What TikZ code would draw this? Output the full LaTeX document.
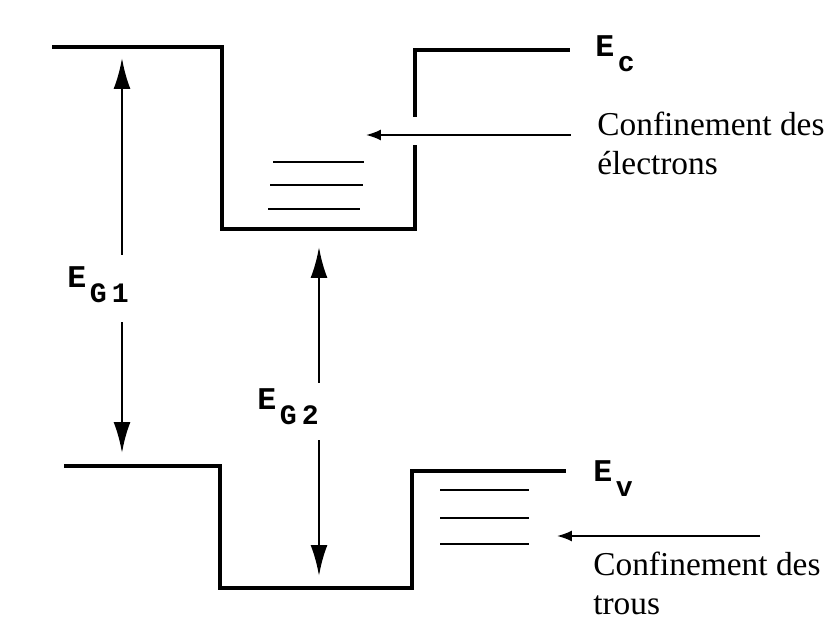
\documentclass[tikz,border=0pt]{standalone}
\usepackage{fontspec}
\setmainfont{Liberation Serif}
\newfontfamily\monofam{Liberation Mono}
\usetikzlibrary{arrows.meta}
\tikzset{
	band/.style={line width=2.4pt, line join=miter},
	level/.style={line width=1pt},
	gaparr/.style={-{Latex[length=6.2mm,width=3.4mm]}, line width=1.5pt},
	confarr/.style={-{Latex[length=3mm,width=2.2mm]}, line width=1pt},
	elab/.style={inner sep=0pt, anchor=base west},
	txt/.style={inner sep=0pt, anchor=north west, align=left,
		font=\fontsize{19}{22}\selectfont}
}
\newcommand{\Elab}[1]{{\monofam\bfseries\fontsize{18}{18}\selectfont E\hspace{2pt}\raisebox{-8pt}{\fontsize{16}{16}\selectfont #1}}}

\begin{document}
\begin{tikzpicture}[x=0.02cm, y=-0.02cm]
		\useasboundingbox (0,0) rectangle (840,631);
		% conduction band
		\draw[band] (52,47) -- (222,47) -- (222,229) -- (415,229) -- (415,145);
		\draw[band] (415,117) -- (415,50) -- (570,50);
		\draw[level] (273,162) -- (364,162);
		\draw[level] (270,185) -- (363,185);
		\draw[level] (268,209) -- (360,209);
		% valence band
		\draw[band] (64,466) -- (220,466) -- (220,588) -- (412,588) -- (412,471) -- (566,471);
		\draw[level] (440,490) -- (529,490);
		\draw[level] (440,518) -- (529,518);
		\draw[level] (440,544) -- (529,544);
		% labels
		\node[elab] (ec) at (595,57) {\Elab{c}};
		\node[elab] (ev) at (593,482) {\Elab{v}};
		\node[elab] (eg1) at (67,288) {\Elab{G\hspace{3pt}1}};
		\node[elab] (eg2) at (257,410) {\Elab{G\hspace{3pt}2}};
		\node[txt] (confe) at (597,112) {Confinement des\\électrons};
		\node[txt] (confh) at (593,552) {Confinement des\\trous};
		% gaps
		\coordinate (c1) at (122,58);
		\coordinate (v1) at (122,453);
		\coordinate (c2) at (319,247);
		\coordinate (v2) at (319,576);
		\draw[gaparr, shorten <=7pt] (eg1.north -| c1) -- (c1);
		\draw[gaparr, shorten <=11pt] (eg1.south -| v1) -- (v1);
		\draw[gaparr, shorten <=3.5pt] (eg2.north -| c2) -- (c2);
		\draw[gaparr, shorten <=9pt] (eg2.south -| v2) -- (v2);
		% confinement arrows
		\coordinate (etip) at (366,135);
		\coordinate (hstart) at (760,536);
		\coordinate (htip) at (557,536);
		\draw[confarr, shorten <=15pt] (confe.west |- etip) -- (etip);
		\draw[confarr] (hstart) -- (htip);
	\end{tikzpicture}
\end{document}
